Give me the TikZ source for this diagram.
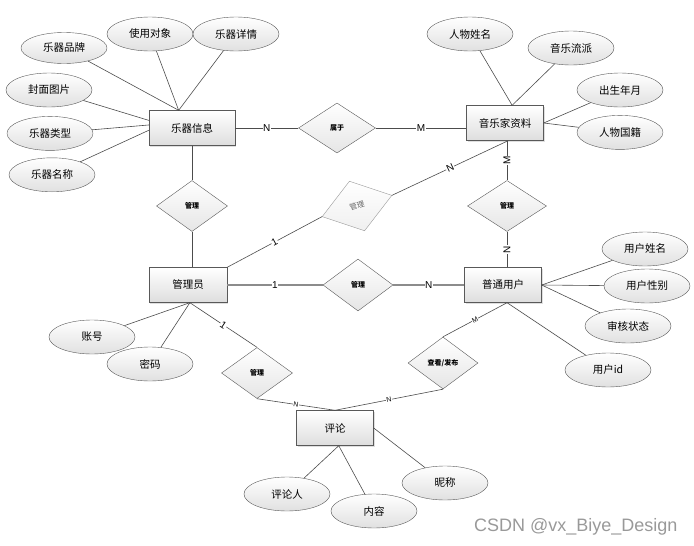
\documentclass[tikz,border=0pt]{standalone}
\usepackage{fontspec}
\setmainfont{Noto Sans CJK SC}
\newfontfamily\labelfont{Liberation Sans}
\usetikzlibrary{positioning,shapes.geometric,shadows}

\begin{document}
\begin{tikzpicture}[
    x=1pt, y=-1pt,
    ent/.style={rectangle, draw=black!65, top color=white, bottom color=black!13, minimum width=77pt, minimum height=35pt, inner sep=0pt, font=\fontsize{10.5}{12}\selectfont, drop shadow={shadow xshift=1.2pt, shadow yshift=-1.2pt, opacity=0.25}},
    attr/.style={ellipse, draw=black!65, top color=white, bottom color=black!12, minimum width=86pt, minimum height=34pt, inner sep=0pt, font=\fontsize{10.5}{12}\selectfont},
    rel/.style={diamond, draw=black!65, top color=white, bottom color=black!10, minimum width=71pt, minimum height=51pt, inner sep=0pt, font=\fontsize{7}{8}\selectfont\bfseries},
    card/.style={fill=white, inner sep=0.6pt, font=\labelfont\fontsize{10}{11}\selectfont},
    smallcard/.style={fill=white, inner sep=0.4pt, font=\labelfont\fontsize{7}{8}\selectfont},
    link/.style={draw=black!70, line width=0.6pt},
    boldlink/.style={draw=black!45, line width=1.4pt},
    ]
    \useasboundingbox (0,0) rectangle (694,546);

    % entities
    \node[ent, minimum width=86pt] (yqxx) at (192,128) {乐器信息};
    \node[ent] (yyjzl) at (505,123) {音乐家资料};
    \node[ent, minimum width=78pt] (gly) at (188,285) {管理员};
    \node[ent] (ptyh) at (503,285) {普通用户};
    \node[ent] (pl) at (335,428) {评论};

    % relations
    \node[rel, minimum width=77pt, minimum height=50pt] (sy) at (337,128) {属于};
    \node[rel] (gl1) at (192,206) {管理};
    \node[rel, draw=black!40, bottom color=black!6, text=black!60, rotate=17, minimum width=73pt, minimum height=52pt, font=\fontsize{7.5}{8}\selectfont] (gl2) at (357,206) {管理};
    \node[rel, minimum width=79pt] (gl3) at (507,206) {管理};
    \node[rel, minimum width=70pt, minimum height=52pt] (gl4) at (358,285) {管理};
    \node[rel] (gl5) at (257,373) {管理};
    \node[rel, minimum width=70pt, minimum height=52pt] (ckfb) at (443,363) {查看/发布};

    % instrument attributes
    \node[attr, minimum height=31pt] (ppai) at (64,48) {乐器品牌};
    \node[attr] (dx) at (150,34) {使用对象};
    \node[attr] (xq) at (236,34) {乐器详情};
    \node[attr] (fm) at (49,90) {封面图片};
    \node[attr, below=9pt of fm.south, anchor=north, xshift=1pt] (lx) {乐器类型};
    \node[attr, below=7pt of lx.south, anchor=north, xshift=2pt] (mc) {乐器名称};

    % musician attributes
    \node[attr] (xm) at (470,34) {人物姓名};
    \node[attr] (lp) at (571,48) {音乐流派};
    \node[attr] (csny) at (620,90) {出生年月};
    \node[attr, below=8pt of csny.south, anchor=north] (gj) {人物国籍};

    % admin attributes
    \node[attr] (zh) at (92,337) {账号};
    \node[attr] (mm) at (150,364) {密码};

    % user attributes
    \node[attr] (yhxm) at (645,249) {用户姓名};
    \node[attr] (xb) at (647,286) {用户性别};
    \node[attr] (zt) at (628,326) {审核状态};
    \node[attr] (yhid) at (608,370) {用户id};

    % comment attributes
    \node[attr] (plr) at (287,494) {评论人};
    \node[attr] (nr) at (374,511) {内容};
    \node[attr] (nc) at (445,483) {昵称};

    % attribute lines
    \draw[link] (ppai) -- (yqxx.127);
    \draw[link] (dx) -- (yqxx.127);
    \draw[link] (xq) -- (yqxx.127);
    \draw[link] (fm) -- (yqxx.170);
    \draw[link] (lx) -- (yqxx.176);
    \draw[link] (mc) -- (yqxx.183);
    \draw[link] (xm) -- (yyjzl.68);
    \draw[link] (lp) -- (yyjzl.68);
    \draw[link] (csny) -- (yyjzl.east);
    \draw[link] (gj) -- (yyjzl.east);
    \draw[link] (zh) -- (gly.-84);
    \draw[link] (mm) -- (gly.-84);
    \draw[link] (yhxm) -- (ptyh.east);
    \draw[link] (xb) -- (ptyh.east);
    \draw[link] (zt) -- (ptyh.east);
    \draw[link] (yhid) -- (ptyh.-77);
    \draw[link] (plr) -- (pl.-78);
    \draw[link] (nr) -- (pl.-78);
    \draw[link] (nc) -- (pl.east);

    % relation lines
    \draw[link] (yqxx.east) -- node[card] {N} (sy.west);
    \draw[link] (sy.east) -- node[card] {M} (sy.east -| yyjzl.west);
    \draw[link] (yqxx.south) -- (gl1.north);
    \draw[link] (gl1.south) -- (gl1.south |- gly.north);
    \draw[link] (gly.north east) -- node[card, sloped] {1} (gl2.west);
    \draw[link] (gl2.east) -- node[card, sloped] {N} (yyjzl.-80);
    \draw[link] (gl3.north |- yyjzl.south) -- node[card, rotate=90] {M} (gl3.north);
    \draw[link] (gl3.south) -- node[card, rotate=90] {N} (gl3.south |- ptyh.north);
    \draw[boldlink] (gly.east) -- node[card] {1} (gl4.west);
    \draw[boldlink] (gl4.east) -- node[card] {N} (ptyh.west);
    \draw[link] (gly.-84) -- node[card, sloped] {1} (gl5.north);
    \draw[link] (gl5.south) -- node[smallcard, sloped] {N} (pl.north);
    \draw[link] (ckfb.north) -- node[smallcard, sloped] {M} (ptyh.-77);
    \draw[link] (ckfb.south) -- node[smallcard, sloped] {N} (pl.north);

    % watermark
    \node[text=black!40, anchor=east, font=\labelfont\fontsize{18}{20}\selectfont] (wm) at (681,527) {CSDN @vx\_Biye\_Design};
\end{tikzpicture}
\end{document}
